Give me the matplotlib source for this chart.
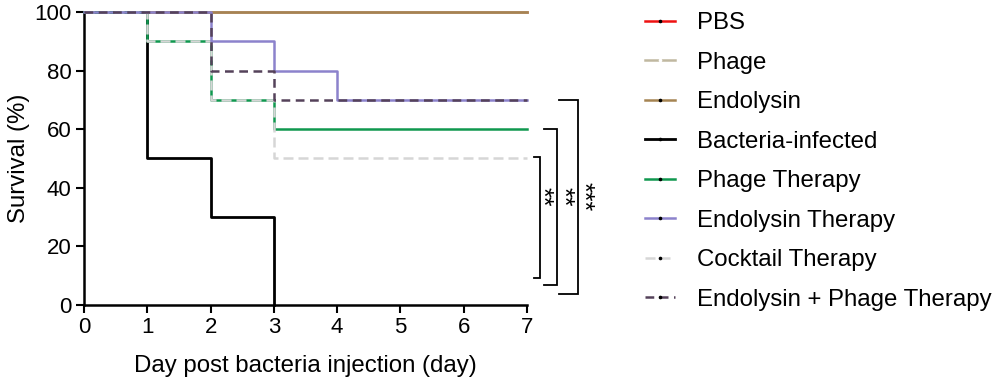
import matplotlib.pyplot as plt
from matplotlib.lines import Line2D

plt.rcParams['font.family'] = ['Liberation Sans', 'DejaVu Sans']

# ── data ─────────────────────────────────────────────────────────────────────
GROUPS = [
    "PBS", "Phage", "Endolysin", "Bacteria-infected", "Phage Therapy",
    "Endolysin Therapy", "Cocktail Therapy", "Endolysin + Phage Therapy",
]
DAYS_FULL = [0, 1, 2, 3, 4, 5, 6, 7]
DAYS_BACT = [0, 1, 2, 3]

SURV_PBS       = [100, 100, 100, 100, 100, 100, 100, 100]
SURV_PHAGE     = [100, 100, 100, 100, 100, 100, 100, 100]
SURV_ENDO      = [100, 100, 100, 100, 100, 100, 100, 100]
SURV_BACT      = [100, 50, 30, 0]
SURV_PHAGE_TX  = [100, 90, 70, 60, 60, 60, 60, 60]
SURV_ENDO_TX   = [100, 100, 90, 80, 70, 70, 70, 70]
SURV_COCKTAIL  = [100, 90, 70, 50, 50, 50, 50, 50]
SURV_COMBO     = [100, 100, 80, 70, 70, 70, 70, 70]

# significance brackets: (y_top, y_bottom), labels (inner -> outer)
SIG_SPANS = [(50.5, 9.3), (60, 6.8), (70, 3.7)]
SIG_LABELS = ["**", "**", "***"]

# ── styles ───────────────────────────────────────────────────────────────────
STYLES = {
    "PBS":               dict(color="#ee1111", ls="-", lw=1.8, mfc="k"),
    "Phage":             dict(color="#c0b8a0", ls="-", lw=1.8, mfc="w"),
    "Endolysin":         dict(color="#a58452", ls="-", lw=1.8, mfc="k"),
    "Bacteria-infected": dict(color="#000000", ls="-", lw=2.0, mfc="k"),
    "Phage Therapy":     dict(color="#10984f", ls="-", lw=1.8, mfc="k"),
    "Endolysin Therapy": dict(color="#8c82cc", ls="-", lw=1.8, mfc="k"),
    "Cocktail Therapy":  dict(color="#d6d6d6", ls=(0, (4, 2)), lw=1.8, mfc="k"),
    "Endolysin + Phage Therapy": dict(color="#55425a", ls=(0, (3.5, 2.2)), lw=1.8, mfc="k"),
}

SERIES = [
    ("PBS", DAYS_FULL, SURV_PBS),
    ("Phage", DAYS_FULL, SURV_PHAGE),
    ("Endolysin", DAYS_FULL, SURV_ENDO),
    ("Bacteria-infected", DAYS_BACT, SURV_BACT),
    ("Phage Therapy", DAYS_FULL, SURV_PHAGE_TX),
    ("Cocktail Therapy", DAYS_FULL, SURV_COCKTAIL),
    ("Endolysin Therapy", DAYS_FULL, SURV_ENDO_TX),
    ("Endolysin + Phage Therapy", DAYS_FULL, SURV_COMBO),
]

FS = 17.3

fig = plt.figure(figsize=(10, 3.82), dpi=100)
ax = fig.add_axes([0.084, 0.2016, 0.443, 0.767])

for z, (name, days, surv) in enumerate(SERIES):
    st = STYLES[name]
    ax.step(days, surv, where="post", color=st["color"], ls=st["ls"],
            lw=st["lw"], zorder=2 + z, clip_on=False)

ax.set_xlim(0, 7)
ax.set_ylim(0, 100)
ax.set_xticks(range(0, 8))
ax.set_yticks(range(0, 101, 20))
for s in ("top", "right"):
    ax.spines[s].set_visible(False)
for s in ("left", "bottom"):
    ax.spines[s].set_linewidth(1.8)
ax.tick_params(direction="out", length=6, width=1.5, labelsize=16, pad=3)
ax.set_xlabel("Day post bacteria injection (day)", fontsize=FS, labelpad=12)
ax.set_ylabel("Survival (%)", fontsize=FS, labelpad=3)

# significance brackets
bx = [(7.11, 7.20), (7.27, 7.47), (7.50, 7.80)]
for (x0, x1), (yt, yb) in zip(bx, SIG_SPANS):
    ax.plot([x0, x1, x1, x0], [yt, yt, yb, yb], color="k", lw=1.3,
            clip_on=False, solid_joinstyle="miter")
# stars as one rotated multi-line text (lines stack right -> left)
ax.text(7.56, 37, "\n".join(SIG_LABELS[::-1]), rotation=-90,
        ha="center", va="center", multialignment="center",
        fontsize=18, linespacing=0.82, clip_on=False)

# legend
handles = [
    Line2D([], [], color=STYLES[g]["color"], ls=STYLES[g]["ls"], lw=STYLES[g]["lw"],
           marker="o", markersize=1.6, markerfacecolor=STYLES[g]["mfc"],
           markeredgecolor=STYLES[g]["mfc"])
    for g in GROUPS
]
fig.legend(handles, GROUPS, loc="upper left", bbox_to_anchor=(0.623, 1.025),
           frameon=False, fontsize=FS, handlelength=1.25, handletextpad=0.95,
           labelspacing=0.73)

fig.savefig("out.png", dpi=100)
